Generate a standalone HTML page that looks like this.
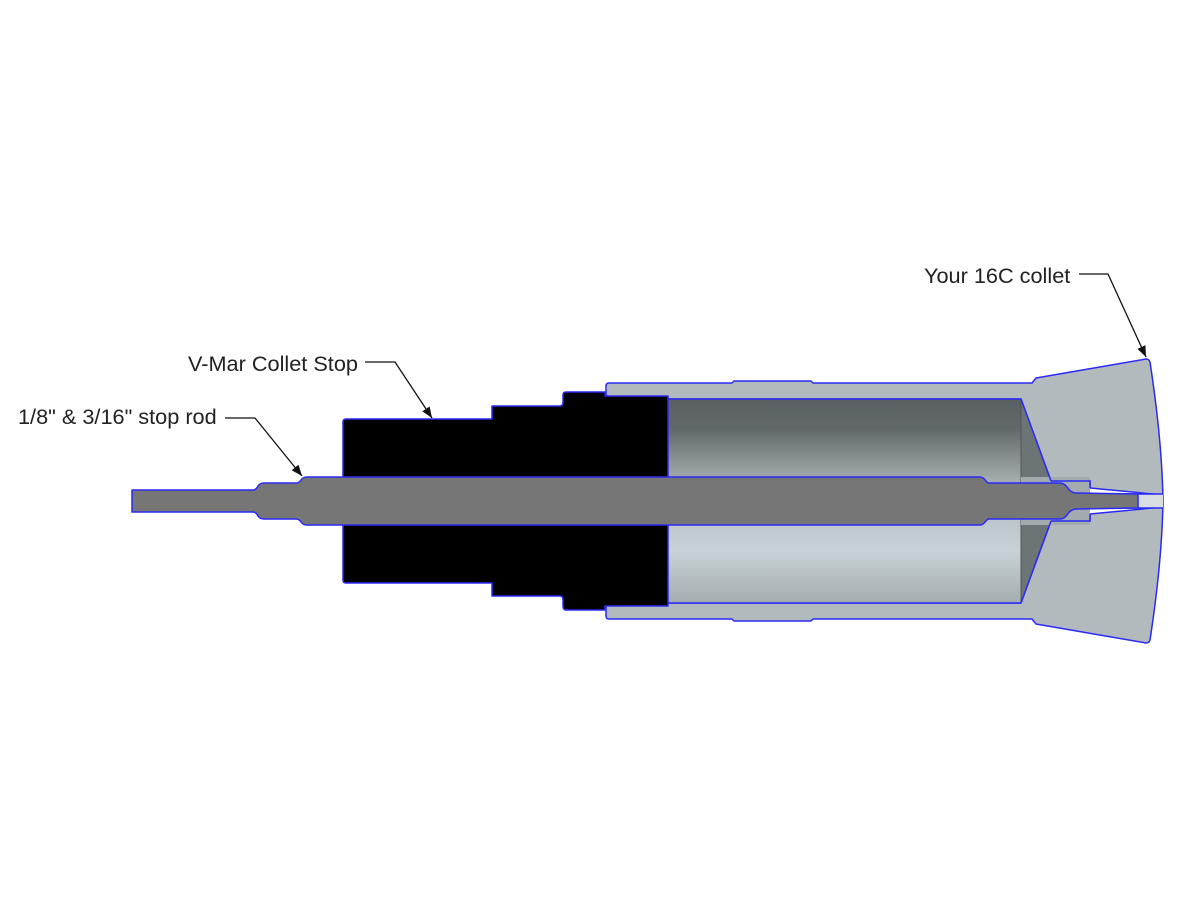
<!DOCTYPE html>
<html><head><meta charset="utf-8"><style>
html,body{margin:0;padding:0;background:#fff;}
svg{display:block;}
text{font-family:"Liberation Sans",Arial,sans-serif;font-size:21.7px;fill:#222;}
</style></head><body>
<svg width="1200" height="900" viewBox="0 0 1200 900" xmlns="http://www.w3.org/2000/svg">
<defs>
<linearGradient id="gt" x1="0" y1="0" x2="0" y2="1">
<stop offset="0" stop-color="#596063"/><stop offset="0.35" stop-color="#62696b"/><stop offset="1" stop-color="#a9b2b4"/></linearGradient>
<linearGradient id="gb" x1="0" y1="0" x2="0" y2="1">
<stop offset="0" stop-color="#b9c4c8"/><stop offset="0.4" stop-color="#c8d3d7"/><stop offset="1" stop-color="#a3acaf"/></linearGradient>
<marker id="ar" viewBox="0 0 10 10" refX="10" refY="5" markerWidth="11" markerHeight="11" orient="auto-start-reverse" markerUnits="userSpaceOnUse">
<path d="M0,1 L10,5 L0,9 z" fill="#111"/></marker>
</defs>
<g stroke="#2a2af5" stroke-width="1.5" stroke-linejoin="round">
<path fill="#b2babe" d="M606,386 Q606,383 609,383 L732,383 L734,381 L811,381 L813,383 L1032,383 L1036,378 L1146,359 Q1149,359 1150,362 Q1162,440 1163,501 Q1162,562 1150,640 Q1149,643 1146,643 L1036,624 L1032,619 L813,619 L811,621 L734,621 L732,619 L609,619 Q606,619 606,616 L606,607 L610,603 L620,603 L1021,603 L1051,521 L1090,521 L1090,514 L1163,507 L1163,495 L1090,488 L1090,481 L1051,481 L1021,399 L620,399 L610,399 L606,395 Z"/>
</g>
<rect x="668" y="399" width="353" height="86" fill="url(#gt)"/>
<rect x="668" y="517" width="353" height="86" fill="url(#gb)"/>
<polygon points="1021,399 1051,481 1051,521 1021,603" fill="#6c7476"/>
<line x1="1021" y1="399" x2="1021" y2="603" stroke="#555" stroke-width="1"/>
<rect x="1021" y="477" width="69" height="48" fill="#a3abae"/>
<rect x="1138" y="494" width="25" height="14" fill="#d7dde0"/>
<g stroke="#2a2af5" stroke-width="1.5" fill="none">
<line x1="668" y1="399" x2="1021" y2="399"/>
<line x1="668" y1="603" x2="1021" y2="603"/>
<line x1="1021" y1="399" x2="1051" y2="481"/>
<line x1="1021" y1="603" x2="1051" y2="521"/>
<path d="M1051,481 L1090,481 L1090,488 M1051,521 L1090,521 L1090,514"/>
<line x1="1090" y1="494" x2="1163" y2="494"/>
<line x1="1090" y1="508" x2="1163" y2="508"/>
</g>
<path fill="#000" stroke="#2a2af5" stroke-width="1.5" stroke-linejoin="round" d="M346,419 L492,419 L492,406 L560,406 Q563,406 563,402 L563,395 Q563,392 566,392 L605,392 L605,396 L620,396 L668,396 L668,606 L620,606 L605,606 L605,610 L566,610 Q563,610 563,606 L563,600 Q563,596 560,596 L492,596 L492,583 L346,583 Q343,583 343,580 L343,422 Q343,419 346,419 Z"/>
<path fill="#767676" stroke="#2a2af5" stroke-width="1.5" stroke-linejoin="round" d="M132,490 L253,490 Q256,490 258,486 Q260,483 264,483 L296,483 Q299,483 301,480 Q303,477 307,477 L980,477 Q983,477 985,480 L988,483 L1060,483 Q1064,483 1067,487 Q1071,493 1076,493 L1138,494 L1138,508 L1076,509 Q1071,509 1067,515 Q1064,519 1060,519 L988,519 L985,522 Q983,525 980,525 L307,525 Q303,525 301,522 Q299,519 296,519 L264,519 Q260,519 258,516 Q256,512 253,512 L132,512 Z"/>
<text x="924" y="283">Your 16C collet</text>
<text x="188" y="371">V-Mar Collet Stop</text>
<text x="18" y="424">1/8" &amp; 3/16" stop rod</text>
<g stroke="#111" stroke-width="1.3" fill="none">
<polyline points="1079,274 1108,274 1146,357" marker-end="url(#ar)"/>
<polyline points="365,362 395,362 432,418" marker-end="url(#ar)"/>
<polyline points="225,418 255,418 302,476" marker-end="url(#ar)"/>
</g>
</svg>
</body></html>
